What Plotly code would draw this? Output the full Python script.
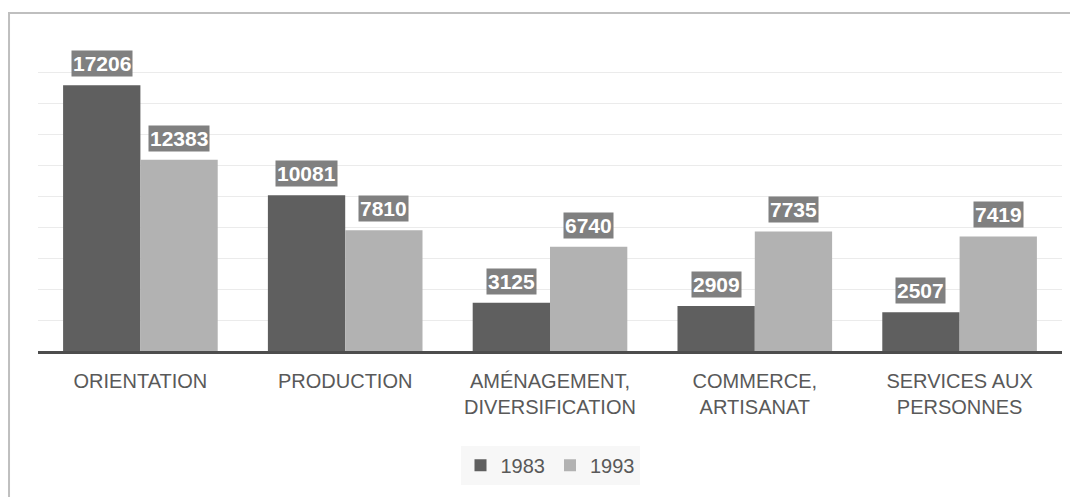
import plotly.graph_objects as go

categories = ["ORIENTATION", "PRODUCTION", "AMÉNAGEMENT,<br>DIVERSIFICATION",
              "COMMERCE,<br>ARTISANAT", "SERVICES AUX<br>PERSONNES"]
series_names = ["1983", "1993"]
values_1983 = [17206, 10081, 3125, 2909, 2507]
values_1993 = [12383, 7810, 6740, 7735, 7419]

colors = ["#5f5f5f", "#b2b2b2"]
FONT = "Liberation Sans"

fig = go.Figure()
for name, vals, col in zip(series_names, [values_1983, values_1993], colors):
    fig.add_trace(go.Bar(x=categories, y=vals, name=name, marker_color=col,
                         marker_line_width=0))

bar_half = 38.7
annotations = []
for shift, vals in zip([-bar_half, bar_half], [values_1983, values_1993]):
    for c, v in zip(categories, vals):
        annotations.append(dict(
            x=c, y=v, xref="x", yref="y", text=str(v), showarrow=False,
            xshift=shift, yshift=8, yanchor="bottom",
            font=dict(family=FONT, size=21, color="white", weight="bold"),
            bgcolor="#808080", borderpad=1))

fig.update_layout(
    width=1070, height=489,
    margin=dict(l=30, r=16, t=34, b=146),
    paper_bgcolor="white", plot_bgcolor="white",
    barmode="group", bargap=0.245, bargroupgap=0,
    font=dict(family=FONT, size=20, color="#595959"),
    showlegend=True,
    legend=dict(orientation="h", x=0.5, xanchor="center", y=-0.37, yanchor="middle",
                bgcolor="#f7f7f7", font=dict(size=20, color="#595959"),
                traceorder="normal", itemwidth=30),
    annotations=annotations,
    shapes=[dict(type="rect", xref="paper", yref="paper",
                 x0=-0.0283, x1=1.03, y0=-0.6, y1=1.0939,
                 line=dict(color="#bfbfbf", width=2), layer="below")],
)
fig.update_xaxes(showline=True, linewidth=3, linecolor="#4d4d4d",
                 ticks="outside", ticklen=10, tickcolor="rgba(0,0,0,0)",
                 tickfont=dict(size=20, color="#595959"))
fig.update_yaxes(range=[0, 20000], dtick=2000, showgrid=True, gridcolor="#ebebeb",
                 gridwidth=1, zeroline=False, showticklabels=False)

fig.write_html("out.html")
